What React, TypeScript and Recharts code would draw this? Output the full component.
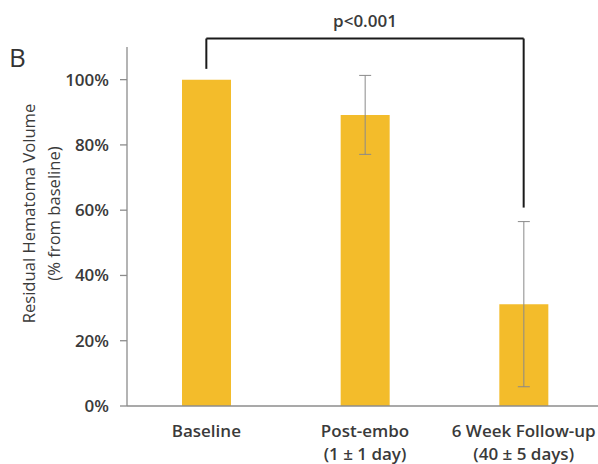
import React from 'react';
import { BarChart, Bar, XAxis, YAxis, ErrorBar, ReferenceLine } from 'recharts';

const categories = ['Baseline', 'Post-embo', '6 Week Follow-up'];
const subLabels = ['', '(1 ± 1 day)', '(40 ± 5 days)'];
const residual = [100, 89.2, 31.2];
const residualSd = [0, 12.1, 25.3];
const yTicks = [0, 20, 40, 60, 80, 100];

// significance bracket, in % units
const bracketTop = 112.6;
const bracketLeftFoot = 103.3;
const bracketRightFoot = 60.8;
const pLabel = 'p<0.001';

const data = categories.map((name, i) => ({
  name,
  sub: subLabels[i],
  value: residual[i],
  sd: residualSd[i],
}));

const FONT = '"Open Sans", "DejaVu Sans", sans-serif';
const TEXT = '#3a3a3a';
const AXIS = '#8c8c8c';

function CategoryTick({ x, y, payload, index }: any) {
  const sub = subLabels[index];
  return (
    <text x={x} y={y} textAnchor="middle" fontFamily={FONT} fontSize={17} fontWeight={600} fill={TEXT}>
      <tspan x={x} dy={23}>{payload.value}</tspan>
      {sub ? <tspan x={x} dy={23}>{sub}</tspan> : null}
    </text>
  );
}

function YTitle({ viewBox }: any) {
  const cx = 29;
  const cy = viewBox.y + viewBox.height / 2 - 13;
  return (
    <text transform={`rotate(-90, ${cx}, ${cy})`} x={cx} y={cy} textAnchor="middle" fontFamily={FONT} fontSize={16.6} fill={TEXT}>
      <tspan x={cx} dy={6}>Residual Hematoma Volume</tspan>
      <tspan x={cx} dy={25}>(% from baseline)</tspan>
    </text>
  );
}

export default function App() {
  return (
    <div style={{ position: 'absolute', left: 0, top: 0, width: 598, height: 464, overflow: 'hidden', background: '#fff' }}>
      <div style={{ position: 'absolute', left: 9, top: 39, fontFamily: FONT, fontSize: 26, color: '#333' }}>B</div>
      <BarChart width={610} height={464} data={data} margin={{ top: 47, right: 7, left: 0, bottom: 0 }}>
        <XAxis
          dataKey="name"
          height={58}
          axisLine={{ stroke: AXIS, strokeWidth: 1.3 }}
          tickLine={false}
          interval={0}
          tick={<CategoryTick />}
        />
        <YAxis
          width={127}
          domain={[0, 110]}
          ticks={yTicks}
          allowDataOverflow
          axisLine={{ stroke: AXIS, strokeWidth: 1.3 }}
          tickLine={{ stroke: AXIS, strokeWidth: 1.3 }}
          tickSize={7}
          tickMargin={11}
          tickFormatter={(v) => `${v}%`}
          tick={{ fontFamily: FONT, fontSize: 17, fontWeight: 600, fill: TEXT }}
          label={<YTitle />}
        />
        <Bar dataKey="value" fill="#F3BC2B" barSize={49} isAnimationActive={false}>
          <ErrorBar dataKey="sd" width={6} stroke="#8a8a8a" strokeWidth={1} />
        </Bar>
        <ReferenceLine
          segment={[{ x: categories[0], y: bracketLeftFoot }, { x: categories[0], y: bracketTop }]}
          stroke="#1a1a1a"
          strokeWidth={2}
          ifOverflow="visible"
        />
        <ReferenceLine
          segment={[{ x: categories[0], y: bracketTop }, { x: categories[2], y: bracketTop }]}
          stroke="#1a1a1a"
          strokeWidth={2}
          ifOverflow="visible"
          label={{ value: pLabel, position: 'top', offset: 12, fontFamily: FONT, fontSize: 17, fontWeight: 600, fill: TEXT }}
        />
        <ReferenceLine
          segment={[{ x: categories[2], y: bracketTop }, { x: categories[2], y: bracketRightFoot }]}
          stroke="#1a1a1a"
          strokeWidth={2}
          ifOverflow="visible"
        />
      </BarChart>
    </div>
  );
}
